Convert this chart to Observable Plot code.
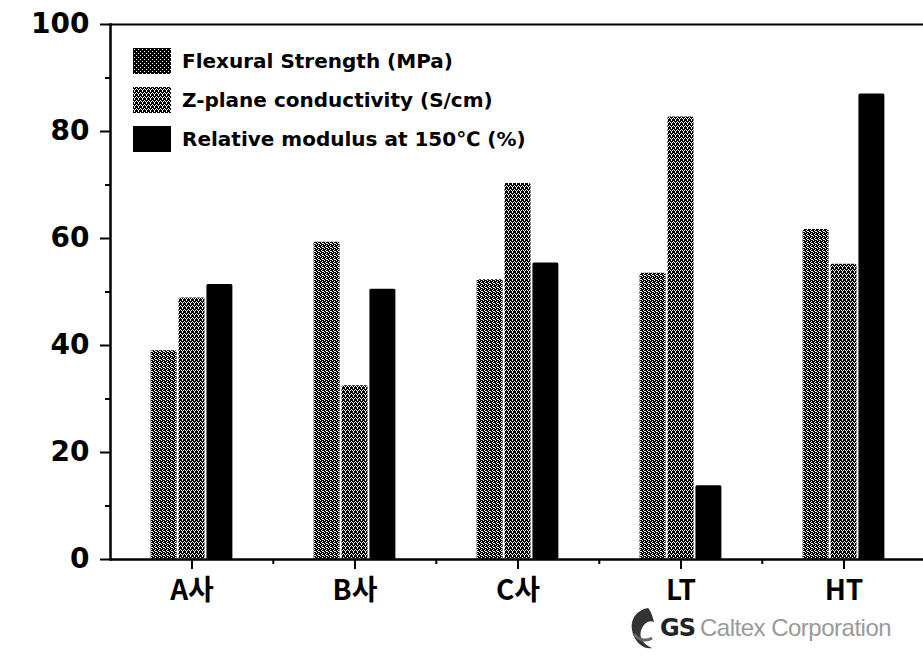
<!DOCTYPE html>
<html>
<head>
<meta charset="utf-8">
<script src="https://cdn.jsdelivr.net/npm/d3@7"></script>
<script src="https://cdn.jsdelivr.net/npm/@observablehq/plot@0.6"></script>
<style>
  html, body { margin: 0; padding: 0; background: #fff; }
  #wrap { position: relative; width: 923px; height: 661px; overflow: hidden; background: #fff; }
  #legend { position: absolute; left: 133px; top: 48px; font-family: "DejaVu Sans", sans-serif; font-weight: bold; font-size: 20px; color: #000; }
  #legend .row { display: flex; align-items: center; height: 26px; margin-bottom: 13px; }
  #legend svg { margin-right: 11px; flex: none; }
  #logo { position: absolute; left: 628px; top: 604px; display: flex; align-items: center; }
  #logo .gs { font-family: "DejaVu Sans", sans-serif; font-weight: bold; font-size: 24px; color: #222; margin-left: 4px; letter-spacing: -1px; }
  #logo .ct { font-family: "Liberation Sans Narrow", "Liberation Sans", sans-serif; font-weight: normal; font-size: 24px; color: #9a9a9a; margin-left: 5px; letter-spacing: -0.5px; }
</style>
</head>
<body>
<div id="wrap"></div>
<script>
// ---- data ----
const categories = ["A사", "B사", "C사", "LT", "HT"];
const seriesNames = ["Flexural Strength (MPa)", "Z-plane conductivity (S/cm)", "Relative modulus at 150℃ (%)"];
const flexural     = [39.0, 59.3, 52.3, 53.5, 61.7];
const conductivity = [48.9, 32.5, 70.3, 82.7, 55.2];
const modulus      = [51.4, 50.5, 55.4, 13.8, 87.0];
const yTicks = [0, 20, 40, 60, 80, 100];
const yMinorTicks = [10, 30, 50, 70, 90];

// ---- layout / style ----
const W = 923, H = 661;
const mLeft = 109, mRight = -3, mTop = 24, mBottom = 102;
const fxStep = (W - mLeft - mRight) / categories.length;
const fills = ["url(#stipple1)", "url(#stipple2)", "#000"];

const valuesBySeries = [flexural, conductivity, modulus];
const rows = categories.flatMap((cat, i) =>
  seriesNames.map((s, k) => ({cat, series: s, value: valuesBySeries[k][i]}))
);

const chart = Plot.plot({
  width: W,
  height: H,
  marginLeft: mLeft,
  marginRight: mRight,
  marginTop: mTop,
  marginBottom: mBottom,
  style: {background: "#fff", color: "#000", overflow: "visible"},
  fx: {domain: categories, padding: 0, label: null},
  x: {domain: seriesNames, paddingInner: 0.07, paddingOuter: 1.455, round: false, axis: null},
  y: {domain: [0, 100], label: null},
  color: {domain: seriesNames, range: fills},
  marks: [
    Plot.barY(rows, {fx: "cat", x: "series", y: "value", fill: "series", rx: 1.5}),
    Plot.ruleY([0], {strokeWidth: 2.5}),
    Plot.ruleY([100], {strokeWidth: 2}),
    Plot.frame({anchor: "left", facetAnchor: "left", strokeWidth: 2.5}),
    Plot.axisY({ticks: yTicks, tickSize: 10, tickPadding: 11, strokeWidth: 2,
      fontSize: 28, fontWeight: "bold", fontFamily: "DejaVu Sans", label: null}),
    Plot.axisY({ticks: yMinorTicks, tickSize: 5, strokeWidth: 2, tickFormat: () => "", label: null}),
    Plot.axisFx({anchor: "bottom", tickSize: 10, tickPadding: 11, strokeWidth: 2,
      fontSize: 28, fontWeight: "bold", fontFamily: "Noto Sans CJK KR", label: null}),
    Plot.axisFx({anchor: "bottom", ticks: categories.slice(1), tickSize: 5, strokeWidth: 2, dx: -fxStep / 2,
      tickFormat: () => "", label: null})
  ]
});

// stipple patterns (dithered fills as in the printed original)
const ns = "http://www.w3.org/2000/svg";
const defs = document.createElementNS(ns, "defs");
defs.innerHTML = `
<pattern id="stipple1" width="4" height="4" patternUnits="userSpaceOnUse">
  <rect width="4" height="4" fill="#000"/>
  <rect x="0" y="0" width="1" height="1" fill="#fff"/>
  <rect x="2" y="1" width="1" height="1" fill="#fff"/>
  <rect x="1" y="2" width="1" height="1" fill="#fff"/>
  <rect x="3" y="3" width="1" height="1" fill="#fff"/>
  <rect x="2" y="3" width="1" height="1" fill="#fff"/>
</pattern>
<pattern id="stipple2" width="4" height="4" patternUnits="userSpaceOnUse">
  <rect width="4" height="4" fill="#000"/>
  <rect x="1" y="0" width="1" height="1" fill="#fff"/>
  <rect x="3" y="1" width="1" height="1" fill="#fff"/>
  <rect x="0" y="2" width="1" height="1" fill="#fff"/>
  <rect x="2" y="2" width="1" height="1" fill="#fff"/>
  <rect x="1" y="3" width="1" height="1" fill="#fff"/>
</pattern>
<pattern id="stipple0" width="4" height="4" patternUnits="userSpaceOnUse">
  <rect width="4" height="4" fill="#000"/>
  <rect x="1" y="1" width="1" height="1" fill="#fff"/>
  <rect x="3" y="3" width="1" height="1" fill="#fff"/>
</pattern>`;
chart.prepend(defs);

const wrap = document.getElementById("wrap");
wrap.appendChild(chart);

// legend (inside the plot area, top-left)
const legend = document.createElement("div");
legend.id = "legend";
const legendFills = ["url(#stipple0)", "url(#stipple2)", "#000"];
seriesNames.forEach((name, k) => {
  const row = document.createElement("div");
  row.className = "row";
  row.innerHTML = `<svg width="38" height="26"><rect width="38" height="26" fill="${legendFills[k]}"/></svg><span>${name}</span>`;
  legend.appendChild(row);
});
wrap.appendChild(legend);

// corporate mark (bottom right)
const logo = document.createElement("div");
logo.id = "logo";
logo.innerHTML = `<svg width="28" height="48" viewBox="0 0 28 48">
  <path d="M20 4 C8 6 2 16 4 26 C6 38 16 46 24 44 C14 40 10 32 14 24 C17 18 22 16 26 18 C24 10 22 6 20 4 Z" fill="#333"/>
  <path d="M6 30 C10 36 18 38 24 34" stroke="#666" stroke-width="3" fill="none"/>
</svg><span class="gs">GS</span><span class="ct">Caltex Corporation</span>`;
wrap.appendChild(logo);
</script>
</body>
</html>
